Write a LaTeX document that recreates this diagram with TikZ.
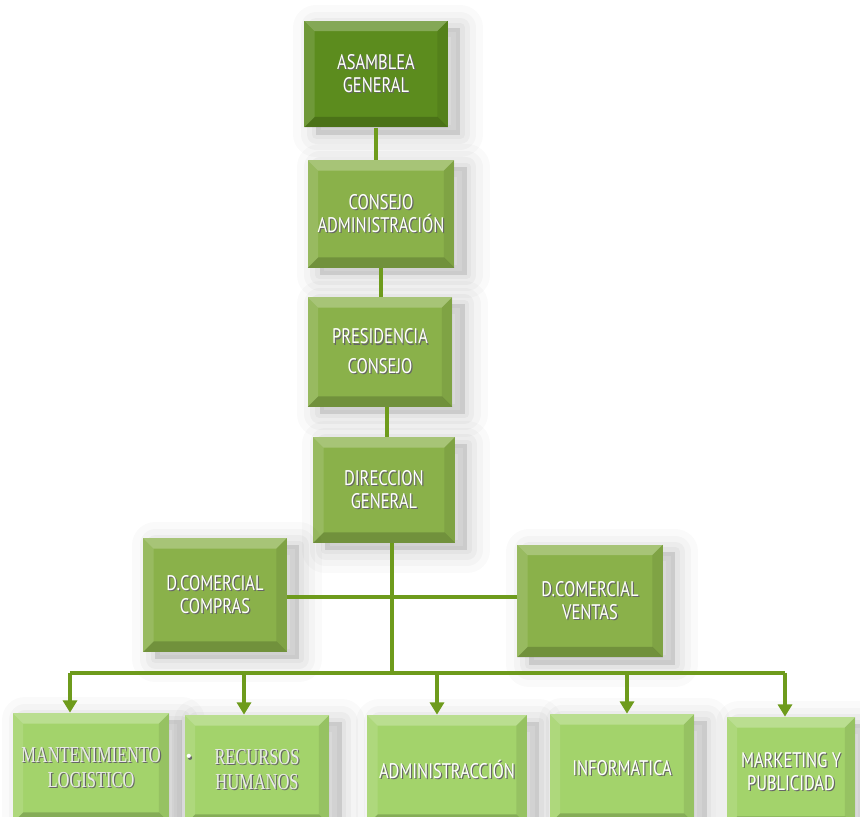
\documentclass[tikz,border=0pt]{standalone}
\usepackage{fontspec}
\usetikzlibrary{arrows.meta}

\newfontfamily\boxfont[FakeStretch=0.78]{PT Sans}
\newfontfamily\oldfont[FakeStretch=0.72]{Liberation Serif}

\definecolor{darkleaf}{HTML}{5C8C1E}
\definecolor{leaf}{HTML}{8AB14A}
\definecolor{lightleaf}{HTML}{A3D36B}
\definecolor{stem}{HTML}{6E9B1C}

% white letters with a soft dark edge
\newcommand\emb[1]{\makebox[0pt][l]{\hspace{0.7pt}\raisebox{-0.7pt}{\color{black!60}#1}}#1}

\tikzset{
  bevel/.style={path picture={
      \path (path picture bounding box.north west) coordinate (nw)
            (path picture bounding box.north east) coordinate (ne)
            (path picture bounding box.south west) coordinate (sw)
            (path picture bounding box.south east) coordinate (se);
      \fill[white,opacity=.25] (nw) -- (ne) -- ([shift={(-6pt,-6pt)}]ne) -- ([shift={(6pt,-6pt)}]nw) -- cycle;
      \fill[white,opacity=.12] (nw) -- ([shift={(6pt,-6pt)}]nw) -- ([shift={(6pt,6pt)}]sw) -- (sw) -- cycle;
      \fill[black,opacity=.08] (ne) -- (se) -- ([shift={(-6pt,6pt)}]se) -- ([shift={(-6pt,-6pt)}]ne) -- cycle;
      \fill[black,opacity=.18] (sw) -- ([shift={(6pt,6pt)}]sw) -- ([shift={(-6pt,6pt)}]se) -- (se) -- cycle;
  }},
  haze/.style={preaction={draw=black, fill=black, opacity=#1, line join=round,
      transform canvas={shift={(7pt,-4pt)}}}},
  box/.style={fill=leaf, bevel, inner sep=0pt, align=center, text=white,
    haze={.02,line width=26pt}, haze={.025,line width=18pt},
    haze={.03,line width=11pt}, haze={.03,line width=5pt},
    font=\boxfont\fontsize{12}{13}\selectfont},
  topbox/.style={box, fill=darkleaf},
  lowbox/.style={box, fill=lightleaf, minimum height=2.2cm},
  oldbox/.style={lowbox, text=white!92!black, font=\oldfont\fontsize{13}{14}\selectfont},
  link/.style={draw=stem, line width=2.5pt},
  drop/.style={link, -{Triangle[width=8pt,length=7pt]}},
}

\begin{document}
\begin{tikzpicture}[x=0.02cm, y=-0.02cm]
\clip (0,0) rectangle (860,817);
\fill[white] (0,0) rectangle (860,817);

% upper chain
\node[topbox, minimum width=2.88cm, minimum height=2.14cm] (asamblea) at (376,74) {\emb{ASAMBLEA}\\\emb{GENERAL}};
\node[box, minimum width=2.94cm, minimum height=2.16cm] (consejo) at (381,214) {\emb{CONSEJO}\\\emb{ADMINISTRACIÓN}};
\node[box, minimum width=2.90cm, minimum height=2.20cm] (presidencia) at (380,352) {\emb{PRESIDENCIA}\\[4pt]\emb{CONSEJO}};
\node[box, minimum width=2.84cm, minimum height=2.12cm] (direccion) at (384,490) {\emb{DIRECCION}\\\emb{GENERAL}};

% commercial branches
\node[box, minimum width=2.88cm, minimum height=2.28cm] (compras) at (215,595) {\emb{D.COMERCIAL}\\\emb{COMPRAS}};
\node[box, minimum width=2.92cm, minimum height=2.26cm] (ventas) at (590,601) {\emb{D.COMERCIAL}\\\emb{VENTAS}};

% departments
\node[oldbox, minimum width=3.14cm] (mant) at (91,768) {\emb{MANTENIMIENTO}\\\emb{LOGISTICO}};
\node[oldbox, minimum width=2.90cm] (recursos) at (257,770) {\emb{RECURSOS}\\\emb{HUMANOS}};
\node[text=white, font=\footnotesize] (dot) at (189,758) {\emb{•}};
\node[lowbox, minimum width=3.20cm] (admin) at (447,770) {\emb{ADMINISTRACCIÓN}};
\node[lowbox, minimum width=2.90cm] (informatica) at (622,769) {\emb{INFORMATICA}};
\node[lowbox, minimum width=2.58cm] (marketing) at (791,772) {\emb{MARKETING Y}\\\emb{PUBLICIDAD}};

\coordinate (hub) at (392,597);
\coordinate (a1) at (70,673);
\coordinate (a2) at (244,673);
\coordinate (a3) at (437,673);
\coordinate (a4) at (627,673);
\coordinate (a5) at (785,673);

\draw[link] (asamblea.south) -- (asamblea.south |- consejo.north);
\draw[link] (consejo.south) -- (consejo.south |- presidencia.north);
\draw[link] ([xshift=4pt]presidencia.south) -- ([xshift=4pt]presidencia.south |- direccion.north);
\draw[link] (hub |- direccion.south) -- (hub |- a1);
\draw[link] (compras.east |- hub) -- (ventas.west |- hub);
\draw[link] (a1) -- (a5);
\draw[drop] (a1) -- (a1 |- mant.north);
\draw[drop] (a2) -- (a2 |- recursos.north);
\draw[drop] (a3) -- (a3 |- admin.north);
\draw[drop] (a4) -- (a4 |- informatica.north);
\draw[drop] (a5) -- (a5 |- marketing.north);
\end{tikzpicture}
\end{document}
